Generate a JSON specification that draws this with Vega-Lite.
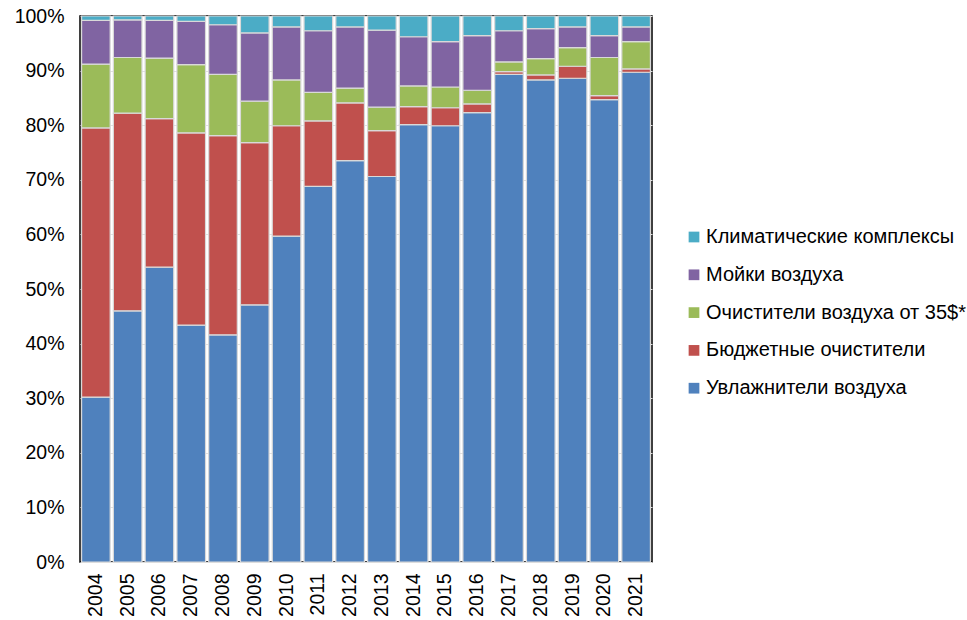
{
  "$schema": "https://vega.github.io/schema/vega-lite/v6.json",
  "width": 572,
  "height": 546,
  "autosize": "none",
  "padding": {"left": 80, "top": 16, "right": 315, "bottom": 58},
  "background": "white",
  "config": {
    "font": "Liberation Sans",
    "view": {"stroke": "#000000", "strokeWidth": 1.5}
  },
  "datasets": {
    "series": [
      {"s": "Увлажнители воздуха", "k": 1},
      {"s": "Бюджетные очистители", "k": 2},
      {"s": "Очистители воздуха от 35$*", "k": 3},
      {"s": "Мойки воздуха", "k": 4},
      {"s": "Климатические комплексы", "k": 5}
    ],
    "shares": [
      {"year": "2004", "s": "Увлажнители воздуха", "v": 30.2},
      {"year": "2004", "s": "Бюджетные очистители", "v": 49.3},
      {"year": "2004", "s": "Очистители воздуха от 35$*", "v": 11.7},
      {"year": "2004", "s": "Мойки воздуха", "v": 8.0},
      {"year": "2004", "s": "Климатические комплексы", "v": 0.8},
      {"year": "2005", "s": "Увлажнители воздуха", "v": 46.0},
      {"year": "2005", "s": "Бюджетные очистители", "v": 36.2},
      {"year": "2005", "s": "Очистители воздуха от 35$*", "v": 10.2},
      {"year": "2005", "s": "Мойки воздуха", "v": 6.9},
      {"year": "2005", "s": "Климатические комплексы", "v": 0.7},
      {"year": "2006", "s": "Увлажнители воздуха", "v": 54.0},
      {"year": "2006", "s": "Бюджетные очистители", "v": 27.2},
      {"year": "2006", "s": "Очистители воздуха от 35$*", "v": 11.1},
      {"year": "2006", "s": "Мойки воздуха", "v": 6.9},
      {"year": "2006", "s": "Климатические комплексы", "v": 0.8},
      {"year": "2007", "s": "Увлажнители воздуха", "v": 43.4},
      {"year": "2007", "s": "Бюджетные очистители", "v": 35.2},
      {"year": "2007", "s": "Очистители воздуха от 35$*", "v": 12.5},
      {"year": "2007", "s": "Мойки воздуха", "v": 7.9},
      {"year": "2007", "s": "Климатические комплексы", "v": 1.0},
      {"year": "2008", "s": "Увлажнители воздуха", "v": 41.6},
      {"year": "2008", "s": "Бюджетные очистители", "v": 36.5},
      {"year": "2008", "s": "Очистители воздуха от 35$*", "v": 11.2},
      {"year": "2008", "s": "Мойки воздуха", "v": 9.1},
      {"year": "2008", "s": "Климатические комплексы", "v": 1.6},
      {"year": "2009", "s": "Увлажнители воздуха", "v": 47.1},
      {"year": "2009", "s": "Бюджетные очистители", "v": 29.7},
      {"year": "2009", "s": "Очистители воздуха от 35$*", "v": 7.6},
      {"year": "2009", "s": "Мойки воздуха", "v": 12.5},
      {"year": "2009", "s": "Климатические комплексы", "v": 3.1},
      {"year": "2010", "s": "Увлажнители воздуха", "v": 59.7},
      {"year": "2010", "s": "Бюджетные очистители", "v": 20.2},
      {"year": "2010", "s": "Очистители воздуха от 35$*", "v": 8.4},
      {"year": "2010", "s": "Мойки воздуха", "v": 9.7},
      {"year": "2010", "s": "Климатические комплексы", "v": 2.0},
      {"year": "2011", "s": "Увлажнители воздуха", "v": 68.8},
      {"year": "2011", "s": "Бюджетные очистители", "v": 12.0},
      {"year": "2011", "s": "Очистители воздуха от 35$*", "v": 5.2},
      {"year": "2011", "s": "Мойки воздуха", "v": 11.3},
      {"year": "2011", "s": "Климатические комплексы", "v": 2.7},
      {"year": "2012", "s": "Увлажнители воздуха", "v": 73.5},
      {"year": "2012", "s": "Бюджетные очистители", "v": 10.6},
      {"year": "2012", "s": "Очистители воздуха от 35$*", "v": 2.7},
      {"year": "2012", "s": "Мойки воздуха", "v": 11.2},
      {"year": "2012", "s": "Климатические комплексы", "v": 2.0},
      {"year": "2013", "s": "Увлажнители воздуха", "v": 70.6},
      {"year": "2013", "s": "Бюджетные очистители", "v": 8.4},
      {"year": "2013", "s": "Очистители воздуха от 35$*", "v": 4.3},
      {"year": "2013", "s": "Мойки воздуха", "v": 14.1},
      {"year": "2013", "s": "Климатические комплексы", "v": 2.6},
      {"year": "2014", "s": "Увлажнители воздуха", "v": 80.1},
      {"year": "2014", "s": "Бюджетные очистители", "v": 3.3},
      {"year": "2014", "s": "Очистители воздуха от 35$*", "v": 3.8},
      {"year": "2014", "s": "Мойки воздуха", "v": 9.0},
      {"year": "2014", "s": "Климатические комплексы", "v": 3.8},
      {"year": "2015", "s": "Увлажнители воздуха", "v": 79.9},
      {"year": "2015", "s": "Бюджетные очистители", "v": 3.3},
      {"year": "2015", "s": "Очистители воздуха от 35$*", "v": 3.8},
      {"year": "2015", "s": "Мойки воздуха", "v": 8.3},
      {"year": "2015", "s": "Климатические комплексы", "v": 4.7},
      {"year": "2016", "s": "Увлажнители воздуха", "v": 82.3},
      {"year": "2016", "s": "Бюджетные очистители", "v": 1.6},
      {"year": "2016", "s": "Очистители воздуха от 35$*", "v": 2.5},
      {"year": "2016", "s": "Мойки воздуха", "v": 10.0},
      {"year": "2016", "s": "Климатические комплексы", "v": 3.6},
      {"year": "2017", "s": "Увлажнители воздуха", "v": 89.3},
      {"year": "2017", "s": "Бюджетные очистители", "v": 0.5},
      {"year": "2017", "s": "Очистители воздуха от 35$*", "v": 1.8},
      {"year": "2017", "s": "Мойки воздуха", "v": 5.7},
      {"year": "2017", "s": "Климатические комплексы", "v": 2.7},
      {"year": "2018", "s": "Увлажнители воздуха", "v": 88.3},
      {"year": "2018", "s": "Бюджетные очистители", "v": 0.9},
      {"year": "2018", "s": "Очистители воздуха от 35$*", "v": 3.0},
      {"year": "2018", "s": "Мойки воздуха", "v": 5.5},
      {"year": "2018", "s": "Климатические комплексы", "v": 2.3},
      {"year": "2019", "s": "Увлажнители воздуха", "v": 88.6},
      {"year": "2019", "s": "Бюджетные очистители", "v": 2.2},
      {"year": "2019", "s": "Очистители воздуха от 35$*", "v": 3.4},
      {"year": "2019", "s": "Мойки воздуха", "v": 3.8},
      {"year": "2019", "s": "Климатические комплексы", "v": 2.0},
      {"year": "2020", "s": "Увлажнители воздуха", "v": 84.7},
      {"year": "2020", "s": "Бюджетные очистители", "v": 0.7},
      {"year": "2020", "s": "Очистители воздуха от 35$*", "v": 7.0},
      {"year": "2020", "s": "Мойки воздуха", "v": 4.0},
      {"year": "2020", "s": "Климатические комплексы", "v": 3.6},
      {"year": "2021", "s": "Увлажнители воздуха", "v": 89.7},
      {"year": "2021", "s": "Бюджетные очистители", "v": 0.6},
      {"year": "2021", "s": "Очистители воздуха от 35$*", "v": 5.0},
      {"year": "2021", "s": "Мойки воздуха", "v": 2.7},
      {"year": "2021", "s": "Климатические комплексы", "v": 2.0}
    ]
  },
  "data": {"name": "shares"},
  "transform": [
    {"lookup": "s", "from": {"data": {"name": "series"}, "key": "s", "fields": ["k"]}}
  ],
  "mark": {"type": "bar", "stroke": "#d9d9d9", "strokeWidth": 1.2},
  "encoding": {
    "x": {
      "field": "year",
      "type": "ordinal",
      "title": null,
      "scale": {"paddingInner": 0.1, "paddingOuter": 0.05},
      "axis": {
        "labelAngle": -90,
        "labelAlign": "right",
        "labelBaseline": "middle",
        "labelFontSize": 19.5,
        "labelColor": "#000000",
        "labelPadding": 11,
        "ticks": false,
        "domain": false
      }
    },
    "y": {
      "field": "v",
      "type": "quantitative",
      "stack": "normalize",
      "title": null,
      "scale": {"domain": [0, 1]},
      "axis": {
        "format": ".0%",
        "values": [0, 0.1, 0.2, 0.3, 0.4, 0.5, 0.6, 0.7, 0.8, 0.9, 1.0],
        "labelFontSize": 19.5,
        "labelColor": "#000000",
        "labelPadding": 16,
        "ticks": false,
        "domain": false,
        "grid": true,
        "gridColor": "#e0e0e0",
        "gridWidth": 1
      }
    },
    "order": {"field": "k", "type": "quantitative", "sort": "ascending"},
    "color": {
      "field": "s",
      "type": "nominal",
      "sort": ["Климатические комплексы", "Мойки воздуха", "Очистители воздуха от 35$*", "Бюджетные очистители", "Увлажнители воздуха"],
      "scale": {
        "domain": ["Климатические комплексы", "Мойки воздуха", "Очистители воздуха от 35$*", "Бюджетные очистители", "Увлажнители воздуха"],
        "range": ["#4bacc6", "#8064a2", "#9bbb59", "#c0504d", "#4f81bd"]
      },
      "legend": {
        "title": null,
        "orient": "none",
        "legendX": 604,
        "legendY": 211,
        "symbolType": "square",
        "symbolSize": 115,
        "symbolStrokeWidth": 0,
        "labelFontSize": 20,
        "labelColor": "#000000",
        "labelOffset": 2,
        "rowPadding": 17.8,
        "labelLimit": 400
      }
    }
  }
}
